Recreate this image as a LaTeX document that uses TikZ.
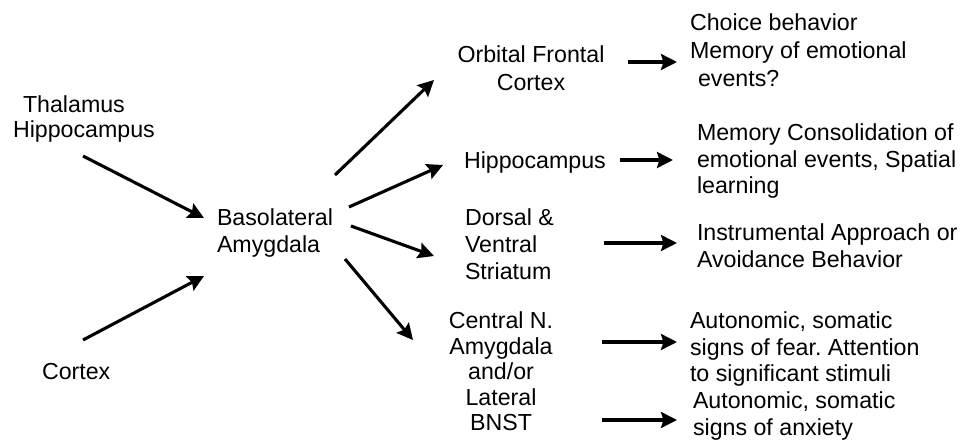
\documentclass[tikz,border=0pt]{standalone}
\usepackage{fontspec}
\setmainfont{Liberation Sans}
\usetikzlibrary{arrows.meta}
\begin{document}
\frenchspacing
\begin{tikzpicture}[x=1pt,y=-1pt,
  lbl/.style={inner sep=0pt, outer sep=0pt, anchor=north west, align=left, font=\fontsize{23.2}{26.5}\selectfont},
  lblc/.style={lbl, anchor=north, align=center},
  arr/.style={line width=3.1pt, -{Stealth[length=16pt,width=16pt,inset=2.5pt]}}]
\useasboundingbox (0,0) rectangle (962,447);
% left inputs
\node[lbl, font=\fontsize{23.2}{24.5}\selectfont] (thal) at (13,96) {\hspace*{10pt}Thalamus\\Hippocampus};
\node[lbl] (cortex) at (42,363) {Cortex};
\node[lbl, font=\fontsize{23.2}{27}\selectfont] (bla) at (217,209) {Basolateral\\Amygdala};
% targets
\node[lblc, font=\fontsize{23.2}{28}\selectfont] (ofc) at (531,46) {Orbital Frontal\\Cortex};
\node[lbl] (hip) at (464,152) {Hippocampus};
\node[lbl, font=\fontsize{23.2}{27}\selectfont] (str) at (465,209) {Dorsal \&\\Ventral\\Striatum};
\node[lblc, font=\fontsize{23.2}{25.5}\selectfont] (cen) at (501,312) {Central N.\\Amygdala\\and/or\\Lateral\\BNST};
% outcomes
\node[lbl, font=\fontsize{23.2}{28}\selectfont] (ofcout) at (690,14) {Choice behavior\\Memory of emotional\\\hspace*{8pt}events?};
\node[lbl] (hipout) at (697,124) {Memory Consolidation of\\emotional events, Spatial\\learning};
\node[lbl, font=\fontsize{23.2}{27}\selectfont] (strout) at (697,224) {Instrumental Approach or\\Avoidance Behavior};
\node[lbl] (cenout) at (690,312) {Autonomic, somatic\\signs of fear. Attention\\to significant stimuli};
\node[lbl] (bnstout) at (693,392) {Autonomic, somatic\\signs of anxiety};
% arrow end points
\coordinate (thalS) at (83,156);   \coordinate (blaIn1) at (204,218);
\coordinate (cortN) at (83,340);   \coordinate (blaIn2) at (204,276);
\coordinate (blaO1) at (335,175);  \coordinate (ofcIn) at (434,80);
\coordinate (blaO2) at (349,207);  \coordinate (hipIn) at (443,165);
\coordinate (blaO3) at (351,226);  \coordinate (strIn) at (434,256);
\coordinate (blaO4) at (345,259);  \coordinate (cenIn) at (413,340);
\coordinate (ofcE) at (628,62);    \coordinate (ofcoutW) at (677,62);
\coordinate (hipE) at (620,160);   \coordinate (hipoutW) at (673,160);
\coordinate (strE) at (604,243);   \coordinate (stroutW) at (677,243);
\coordinate (cenE) at (602,342);   \coordinate (cenoutW) at (677,342);
\coordinate (bnstE) at (602,420);  \coordinate (bnstoutW) at (677,420);
\draw[arr] (thalS) -- (blaIn1);
\draw[arr] (cortN) -- (blaIn2);
\draw[arr] (blaO1) -- (ofcIn);
\draw[arr] (blaO2) -- (hipIn);
\draw[arr] (blaO3) -- (strIn);
\draw[arr] (blaO4) -- (cenIn);
\draw[arr] (ofcE) -- (ofcoutW);
\draw[arr] (hipE) -- (hipoutW);
\draw[arr] (strE) -- (stroutW);
\draw[arr] (cenE) -- (cenoutW);
\draw[arr] (bnstE) -- (bnstoutW);
\end{tikzpicture}
\end{document}
